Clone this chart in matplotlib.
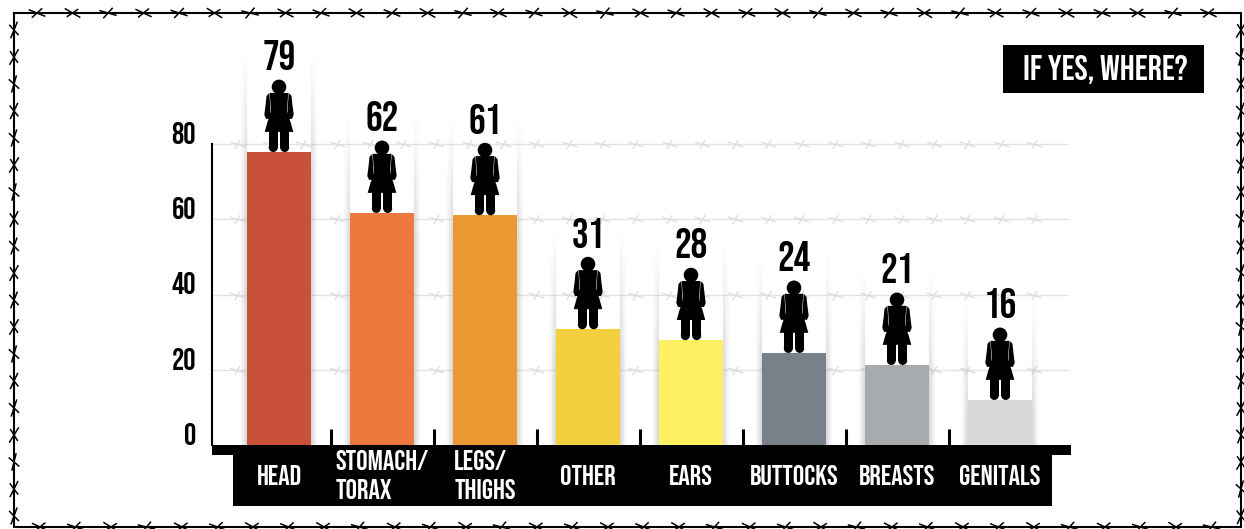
import matplotlib
matplotlib.use('Agg')
import logging
logging.getLogger('matplotlib.font_manager').setLevel(logging.ERROR)
import numpy as np
import matplotlib.pyplot as plt
from matplotlib.path import Path
from matplotlib.patches import PathPatch, Circle, Rectangle
from matplotlib.collections import LineCollection
from matplotlib.transforms import ScaledTranslation
from matplotlib import font_manager as fm

# ---- data ----
categories = ['HEAD', 'STOMACH/\nTORAX', 'LEGS/\nTHIGHS', 'OTHER', 'EARS', 'BUTTOCKS', 'BREASTS', 'GENITALS']
bar_heights = [77.9, 61.7, 61.1, 30.8, 27.9, 24.5, 21.3, 12.0]
value_labels = [79, 62, 61, 31, 28, 24, 21, 16]
bar_colors = ['#C9513A', '#EE783D', '#EC9832', '#F3CF3F', '#FEF161', '#78808A', '#A7ABAE', '#D7D7D7']
y_ticks = [0, 20, 40, 60, 80]
title_box = 'IF YES, WHERE?'

W, H = 1244, 529
avail = {f.name for f in fm.fontManager.ttflist}
font = next((n for n in ['Bebas Neue', 'Oswald', 'Antonio', 'Liberation Sans Narrow', 'Roboto'] if n in avail), 'DejaVu Sans')
plt.rcParams['font.family'] = [font, 'DejaVu Sans']

fig = plt.figure(figsize=(W / 100, H / 100), dpi=100, facecolor='white')

# ---- backdrop in pixel coordinates: frame, barbed wire, black bands ----
bg = fig.add_axes([0, 0, 1, 1], zorder=0)
bg.set_xlim(0, W)
bg.set_ylim(H, 0)
bg.axis('off')

tilt = [0, 8, -6, 3, -4, 10, -8, 5, -2, 7]


def barb_segments(cx, cy, rot):
    segs = []
    for ang, ln in ((22 + rot, 9), (-42 + rot, 7)):
        a = np.deg2rad(ang)
        dx, dy = ln * np.cos(a), ln * np.sin(a)
        segs.append([(cx - dx, cy - dy), (cx + dx, cy + dy)])
    return segs


L, T, R, B = 14, 13, 1241, 527
bg.plot([L, R, R, L, L], [T, T, B, B, T], color='black', lw=1.5, solid_joinstyle='miter')
segs = []
for i, x in enumerate(np.arange(37, 1235, 35.5)):
    segs += barb_segments(x, T, tilt[i % 10])
    segs += barb_segments(x + 3, B, tilt[(i + 3) % 10])
for i, y in enumerate(np.arange(30, 520, 27)):
    segs += barb_segments(L, y, 90 + tilt[i % 10])
    segs += barb_segments(R, y, 90 + tilt[(i + 5) % 10])
bg.add_collection(LineCollection(segs, colors='black', linewidths=1.1))

bg.add_patch(Rectangle((212, 445), 859, 10, fc='black', ec='none'))
bg.add_patch(Rectangle((233, 455), 819, 51, fc='black', ec='none'))
bg.add_patch(Rectangle((1003, 45), 201, 48, fc='black', ec='none'))
bg.text(1105, 69, title_box, color='white', fontsize=25.5, ha='center', va='center')

# ---- chart axes ----
x0, dx = 279, 103
ax = fig.add_axes([212 / W, (H - 445) / H, 856 / W, 301 / H], zorder=1)
ax.patch.set_visible(False)
xlim = ((212 - x0) / dx, (1068 - x0) / dx)
xpos = np.arange(len(categories))

# gridlines with pale barbs
gx = np.arange((237 - x0) / dx, xlim[1] - 8 / dx, 33.2 / dx)
bpath = Path([(-11, 3.5), (11, -3.5), (-4, -6.5), (4, 6.5)],
             [Path.MOVETO, Path.LINETO, Path.MOVETO, Path.LINETO])
for t in y_ticks[1:]:
    ax.plot(xlim, [t, t], color='#E2E2E2', lw=1.0, zorder=1, clip_on=False)
    ax.plot(gx, [t] * len(gx), ls='none', marker=bpath, ms=11, mew=0.9, mec='#DCDCDC',
            mfc='none', zorder=1, clip_on=False)

# soft shadow beside each column, fading out towards the top
px_per_unit = 301 / 80
bar_w = 0.62
pad = 8 / dx
for x, h in zip(xpos, bar_heights):
    top = h + 100 / px_per_unit
    nx, ny = 120, 120
    xx = np.linspace(x - bar_w / 2 - pad, x + bar_w / 2 + pad, nx)
    yy = np.linspace(top, 0, ny)
    edge = np.clip((np.abs(xx - x) - bar_w / 2) / pad, 0, 1)
    hfade = np.where(np.abs(xx - x) <= bar_w / 2, 0, (1 - edge) ** 1.5)
    vfade = np.clip((top - yy) / (top - h + 6), 0, 1)
    rgba = np.zeros((ny, nx, 4))
    rgba[..., :3] = 0.62
    rgba[..., 3] = 0.5 * np.outer(vfade, hfade)
    ax.imshow(rgba, extent=(xx[0], xx[-1], 0, top), aspect='auto', zorder=1.5,
              interpolation='bilinear', clip_on=False)

ax.bar(xpos, bar_heights, width=bar_w, color=bar_colors, zorder=3)


# woman pictogram, in pixels relative to the middle of her feet
def poly(pts):
    return Path(pts + [pts[0]], closed=True)


parts = [
    poly([(-9.3, 59), (9.3, 59), (7.9, 40), (11.5, 30), (14.3, 20), (-14.3, 20), (-11.5, 30), (-7.9, 40)]),
    poly([(-9.7, 59), (-12.5, 56), (-13.3, 48), (-14.7, 37), (-13, 33), (-8.7, 33), (-8, 38), (-8.4, 40)]),
    poly([(9.7, 59), (12.5, 56), (13.3, 48), (14.7, 37), (13, 33), (8.7, 33), (8, 38), (8.4, 40)]),
    poly([(-10.2, 21), (-1.2, 21), (-1.2, 4), (-10.2, 4)]),
    poly([(1.2, 21), (10.2, 21), (10.2, 4), (1.2, 4)]),
]
for x, h, v in zip(xpos, bar_heights, value_labels):
    tr = ScaledTranslation(x, h, ax.transData)
    for p in parts:
        ax.add_patch(PathPatch(p, fc='black', ec='none', transform=tr, zorder=4, clip_on=False))
    for c, r in (((0, 65), 7.3), ((-5.7, 4.4), 4.5), ((5.7, 4.4), 4.5)):
        ax.add_patch(Circle(c, r, fc='black', ec='none', transform=tr, zorder=4, clip_on=False))
    ax.annotate(str(v), (x, h), xytext=(0, 69.5), textcoords='offset points', ha='center',
                va='center', fontsize=30, color='black', zorder=5, annotation_clip=False)

ax.set_xlim(xlim)
ax.set_ylim(0, 80)
for s in ('top', 'right', 'bottom'):
    ax.spines[s].set_visible(False)
ax.spines['left'].set_linewidth(1.5)

ax.set_yticks(y_ticks)
ax.tick_params(axis='y', length=0, pad=11.5, labelsize=22, labelcolor='black')
plt.setp(ax.get_yticklabels(), va='bottom')

ax.set_xticks(xpos)
ax.set_xticklabels(categories, multialignment='left', linespacing=1.45)
ax.tick_params(axis='x', which='major', length=0, pad=21.5, labelsize=20.5, labelcolor='white')
plt.setp(ax.get_xticklabels(), va='center')
ax.set_xticks(xpos[:-1] + 0.5, minor=True)
ax.tick_params(axis='x', which='minor', direction='in', length=11.5, width=2.2, color='black')

fig.savefig('out.png', dpi=100)
